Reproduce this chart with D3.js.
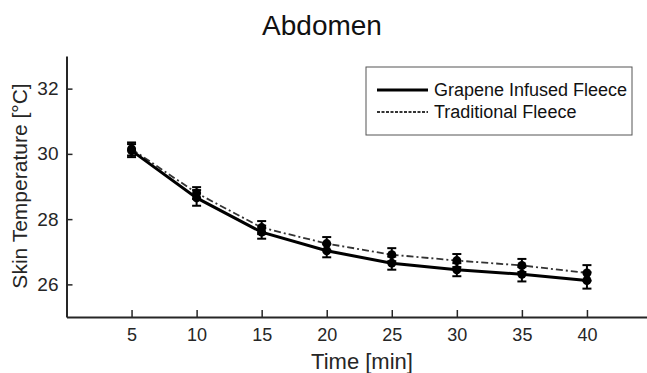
<!DOCTYPE html>
<html>
<head>
<meta charset="utf-8">
<script src="https://cdn.jsdelivr.net/npm/d3@7"></script>
<style>
  body { margin: 0; background: #fff; }
  text { font-family: "Liberation Sans", Arial, sans-serif; fill: #262626; }
</style>
</head>
<body>
<div id="chart"></div>
<script>
// data
var times = [5, 10, 15, 20, 25, 30, 35, 40];
var grapheneMean = [30.1, 28.65, 27.6, 27.03, 26.65, 26.45, 26.31, 26.12];
var grapheneErr = [0.2, 0.24, 0.2, 0.2, 0.2, 0.2, 0.22, 0.25];
var traditionalMean = [30.15, 28.8, 27.74, 27.25, 26.91, 26.73, 26.58, 26.35];
var traditionalErr = [0.2, 0.18, 0.2, 0.2, 0.2, 0.2, 0.2, 0.24];
var xTicks = [5, 10, 15, 20, 25, 30, 35, 40];
var yTicks = [26, 28, 30, 32];

var width = 647, height = 373;
var margin = { top: 56, left: 66.5, bottom: 317 };

var svg = d3.select("#chart").append("svg")
  .attr("width", width)
  .attr("height", height);

var x = d3.scaleLinear().domain([0, 45]).range([margin.left, 652]);
var y = d3.scaleLinear().domain([25, 33]).range([margin.bottom, margin.top]);

var axisColor = "#262626";

// x axis (ticks pointing inward)
var gx = svg.append("g")
  .attr("transform", "translate(0," + margin.bottom + ")")
  .call(d3.axisBottom(x).tickValues(xTicks).tickSizeInner(-7).tickSizeOuter(0).tickPadding(11));
gx.select(".domain").attr("stroke", axisColor).attr("stroke-width", 2);
gx.selectAll(".tick line").attr("stroke", axisColor).attr("stroke-width", 1.5);
gx.selectAll(".tick text").style("font-size", "18px").attr("fill", axisColor);

// y axis
var gy = svg.append("g")
  .attr("transform", "translate(" + margin.left + ",0)")
  .call(d3.axisLeft(y).tickValues(yTicks).tickSizeInner(-6).tickSizeOuter(0).tickPadding(8));
gy.select(".domain").attr("stroke", axisColor).attr("stroke-width", 2);
gy.selectAll(".tick line").attr("stroke", axisColor).attr("stroke-width", 1.5);
gy.selectAll(".tick text").style("font-size", "19px").attr("fill", axisColor);

// axis labels
svg.append("text")
  .attr("x", 362)
  .attr("y", 369)
  .attr("text-anchor", "middle")
  .style("font-size", "22px")
  .text("Time [min]");

svg.append("text")
  .attr("transform", "translate(27,186) rotate(-90)")
  .attr("text-anchor", "middle")
  .style("font-size", "21px")
  .text("Skin Temperature [°C]");

// title
svg.append("text")
  .attr("x", 322)
  .attr("y", 35)
  .attr("text-anchor", "middle")
  .style("font-size", "28px")
  .style("fill", "#111")
  .text("Abdomen");

var series = [
  { name: "Traditional Fleece", mean: traditionalMean, err: traditionalErr, width: 1.8, dash: "7,3,2,3", color: "#333" },
  { name: "Grapene Infused Fleece", mean: grapheneMean, err: grapheneErr, width: 3, dash: null, color: "#000" }
];

var line = d3.line()
  .x(function (d) { return x(d.t); })
  .y(function (d) { return y(d.v); });

series.forEach(function (s) {
  var pts = times.map(function (t, i) { return { t: t, v: s.mean[i], e: s.err[i] }; });

  svg.append("path")
    .datum(pts)
    .attr("fill", "none")
    .attr("stroke", s.color)
    .attr("stroke-width", s.width)
    .attr("stroke-dasharray", s.dash)
    .attr("d", line);

  var eb = svg.append("g");
  eb.selectAll("line.v").data(pts).enter().append("line")
    .attr("x1", function (d) { return x(d.t); })
    .attr("x2", function (d) { return x(d.t); })
    .attr("y1", function (d) { return y(d.v - d.e); })
    .attr("y2", function (d) { return y(d.v + d.e); })
    .attr("stroke", "#000").attr("stroke-width", 2);
  [-1, 1].forEach(function (sgn) {
    eb.selectAll("line.c" + sgn).data(pts).enter().append("line")
      .attr("x1", function (d) { return x(d.t) - 4.5; })
      .attr("x2", function (d) { return x(d.t) + 4.5; })
      .attr("y1", function (d) { return y(d.v + sgn * d.e); })
      .attr("y2", function (d) { return y(d.v + sgn * d.e); })
      .attr("stroke", "#000").attr("stroke-width", 2);
  });

  svg.append("g").selectAll("circle").data(pts).enter().append("circle")
    .attr("cx", function (d) { return x(d.t); })
    .attr("cy", function (d) { return y(d.v); })
    .attr("r", 4.5)
    .attr("fill", "#000");
});

// legend
var legend = svg.append("g");
legend.append("rect")
  .attr("x", 366).attr("y", 67)
  .attr("width", 266).attr("height", 68)
  .attr("fill", "#fff")
  .attr("stroke", "#555").attr("stroke-width", 1);

var legendItems = [series[1], series[0]];
legendItems.forEach(function (s, i) {
  var ly = 90 + i * 22;
  legend.append("line")
    .attr("x1", 377).attr("x2", 428)
    .attr("y1", ly).attr("y2", ly)
    .attr("stroke", s.color)
    .attr("stroke-width", s.width)
    .attr("stroke-dasharray", s.dash ? "3,1.5" : null);
  legend.append("text")
    .attr("x", 434).attr("y", ly)
    .attr("dy", "0.35em")
    .style("font-size", "18px")
    .style("fill", "#111")
    .text(s.name);
});
</script>
</body>
</html>
